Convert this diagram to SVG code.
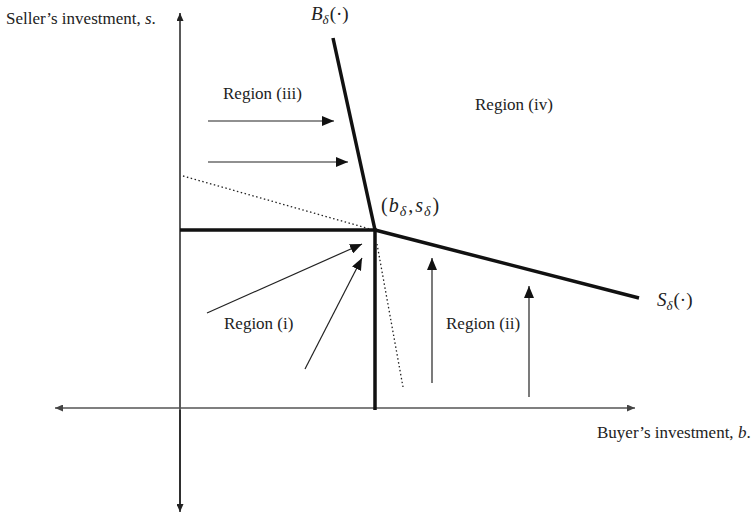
<svg xmlns="http://www.w3.org/2000/svg" width="752" height="515" viewBox="0 0 752 515">
<defs>
<marker id="ah" viewBox="0 0 12 10" refX="12" refY="5" markerWidth="12" markerHeight="10" markerUnits="userSpaceOnUse" orient="auto">
<path d="M0,0 L12,5 L0,10 Z" fill="#111"/>
</marker>
<marker id="ax" viewBox="0 0 8 7" refX="8" refY="3.5" markerWidth="8" markerHeight="7" markerUnits="userSpaceOnUse" orient="auto">
<path d="M0,0 L8,3.5 L0,7 Z" fill="#222"/>
</marker>
<marker id="axg" viewBox="0 0 8 7" refX="8" refY="3.5" markerWidth="8" markerHeight="7" markerUnits="userSpaceOnUse" orient="auto">
<path d="M0,0 L8,3.5 L0,7 Z" fill="#444"/>
</marker>
</defs>
<style>
text{font-family:"Liberation Serif","Times New Roman",serif;font-size:17px;fill:#222}
.it{font-style:italic}
.math{font-size:19px}
.sub{font-size:13px;font-style:italic}
.thin{stroke:#222;stroke-width:1.2;fill:none}
.axis{stroke:#222;stroke-width:1.5;fill:none}
.axisg{stroke:#555;stroke-width:1.5;fill:none}
.thick{stroke:#111;stroke-width:3.5;fill:none}
.dot{stroke:#222;stroke-width:1.3;stroke-dasharray:1.5,2.5;fill:none}
</style>
<rect width="752" height="515" fill="#fff"/>

<g id="axes">
<line class="axis" x1="180" y1="508" x2="180" y2="13" marker-end="url(#ax)"/>
<line class="axis" x1="180" y1="410" x2="180" y2="512" marker-end="url(#ax)"/>
<line class="axisg" x1="180" y1="408" x2="55" y2="408" marker-end="url(#axg)"/>
<line class="axisg" x1="180" y1="408" x2="635" y2="408" marker-end="url(#axg)"/>
</g>

<g id="curves">
<polyline class="thick" points="180,230 375,230 375,410"/>
<line class="thick" x1="333" y1="38" x2="375" y2="230"/>
<line class="thick" x1="375" y1="230" x2="639" y2="298"/>
<line class="dot" x1="183" y1="176" x2="370" y2="229"/>
<line class="dot" x1="377" y1="244" x2="403" y2="387"/>
</g>

<g id="connectors">
<line class="thin" x1="208" y1="121" x2="334" y2="121" marker-end="url(#ah)"/>
<line class="thin" x1="208" y1="162" x2="348" y2="162" marker-end="url(#ah)"/>
<line class="thin" x1="207" y1="313" x2="362" y2="244" marker-end="url(#ah)"/>
<line class="thin" x1="305" y1="369" x2="362" y2="258" marker-end="url(#ah)"/>
<line class="thin" x1="432" y1="383" x2="432" y2="258" marker-end="url(#ah)"/>
<line class="thin" x1="529" y1="397" x2="529" y2="286" marker-end="url(#ah)"/>
</g>

<g id="labels">
<text x="6" y="24">Seller’s investment, <tspan class="it">s</tspan>.</text>
<text x="597" y="438">Buyer’s investment, <tspan class="it">b</tspan>.</text>
<text class="math" x="311" y="20"><tspan class="it">B</tspan><tspan class="sub" dy="4">δ</tspan><tspan dy="-4" dx="1">(·)</tspan></text>
<text class="math" x="657" y="306"><tspan class="it">S</tspan><tspan class="sub" dy="4">δ</tspan><tspan dy="-4" dx="1">(·)</tspan></text>
<text x="381" y="212" style="font-size:20px">(<tspan class="it" dx="1">b</tspan><tspan class="sub" style="font-size:14px" dy="4" dx="1">δ</tspan><tspan dy="-4" dx="2">,</tspan><tspan class="it" dx="2">s</tspan><tspan class="sub" style="font-size:14px" dy="4" dx="1">δ</tspan><tspan dy="-4" dx="2">)</tspan></text>
<text x="223" y="99">Region (iii)</text>
<text x="475" y="110">Region (iv)</text>
<text x="224" y="329">Region (i)</text>
<text x="446" y="329">Region (ii)</text>
</g>
</svg>
